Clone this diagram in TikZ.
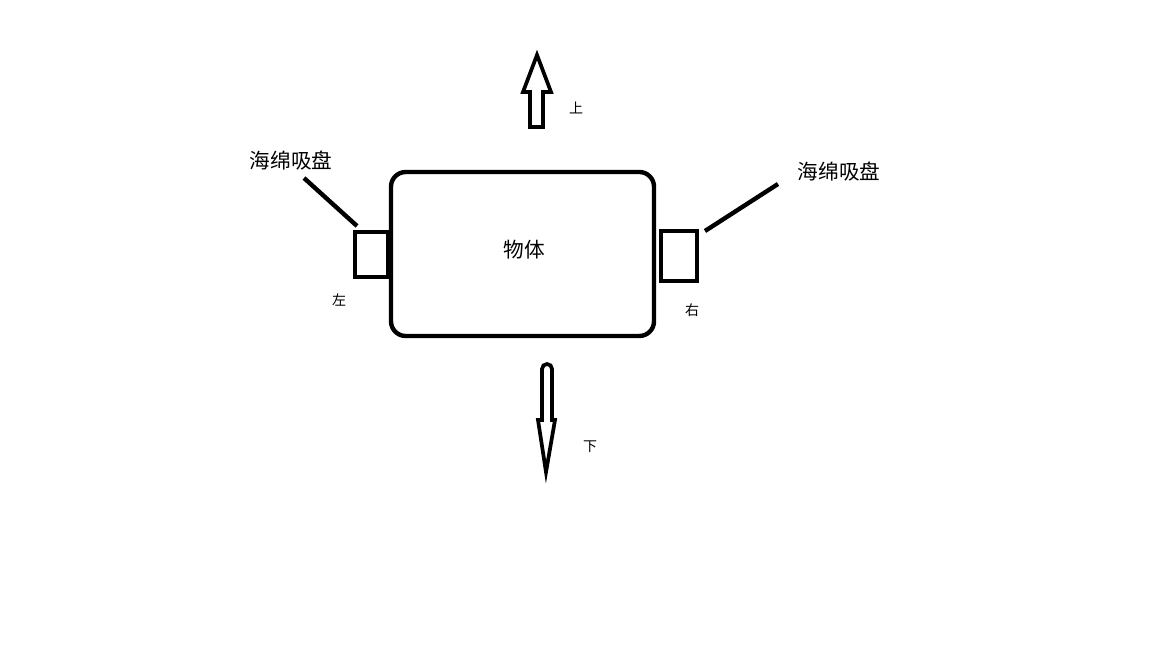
\documentclass[tikz,border=0pt]{standalone}
\usepackage{fontspec}
\newfontfamily\cjk{Noto Sans CJK SC}
\begin{document}
\begin{tikzpicture}[x=0.75pt,y=-0.75pt,
  thick line/.style={line width=3.3pt},
  arrowline/.style={line width=2.8pt, line join=miter},
  biglabel/.style={font=\cjk\fontsize{15.5}{18}\selectfont, inner sep=0pt},
  smalllabel/.style={font=\cjk\fontsize{10.5}{12}\selectfont, inner sep=0pt}]
\useasboundingbox[fill=white] (0,0) rectangle (1152,648);
% main body
\draw[thick line, rounded corners=11pt] (391,172) rectangle (654,336);
\node[biglabel] (body) at (524,250) {物体};
% pads
\draw[thick line] (355,232) rectangle (388,277);
\coordinate (lpad) at (357,226);
\draw[thick line] (661,231) rectangle (697,281);
\coordinate (rpad) at (705,231);
% labels
\node[biglabel] (lname) at (291,161) {海绵吸盘};
\node[biglabel] (rname) at (839,172) {海绵吸盘};
\coordinate (lstart) at (304,178);
\coordinate (rstart) at (778,184);
\draw[thick line] (lstart) -- (lpad);
\draw[thick line] (rstart) -- (rpad);
\node[smalllabel] (left) at (339,300) {左};
\node[smalllabel] (right) at (692,310) {右};
% up arrow
\draw[arrowline] (530,127) -- (530,92) -- (523,92) -- (537,55) -- (551,92) -- (543,92) -- (543,127) -- cycle;
\node[smalllabel] (up) at (576,108) {上};
% down arrow
\draw[arrowline] (542,420) -- (542,369) arc[start angle=180,end angle=360,radius=5] -- (552,420) -- (555,420) -- (546,472) -- (538,420) -- cycle;
\node[smalllabel] (down) at (590,447) {下};
\end{tikzpicture}
\end{document}
